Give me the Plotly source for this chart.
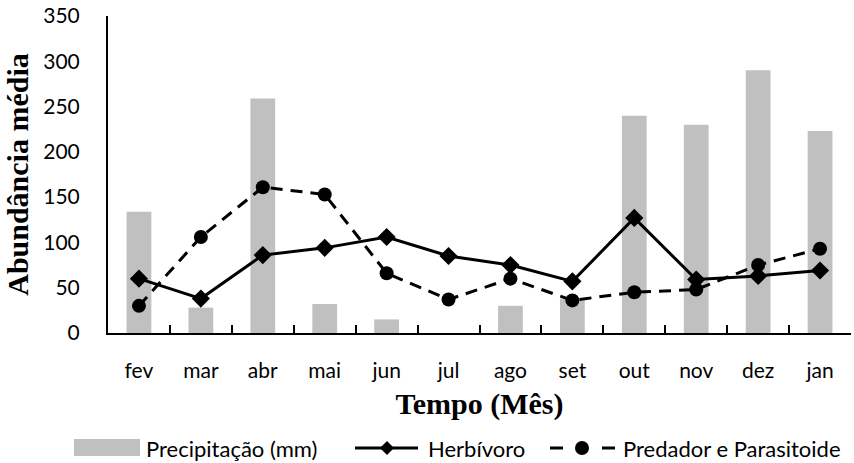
import plotly.graph_objects as go

meses = ["fev", "mar", "abr", "mai", "jun", "jul", "ago", "set", "out", "nov", "dez", "jan"]
precipitacao = [134, 28, 259, 32, 15, 0, 30, 38, 240, 230, 290, 223]
herbivoro = [60, 38, 86, 94, 106, 85, 75, 57, 127, 59, 63, 69]
predador = [30, 106, 161, 153, 66, 37, 60, 36, 45, 48, 75, 93]

y_ticks = [0, 50, 100, 150, 200, 250, 300, 350]
nomes = ["Precipitação (mm)", "Herbívoro", "Predador e Parasitoide"]

W, H = 854, 463
M_L, M_R, M_T, M_B = 108, 3, 16, 130
PW, PH = W - M_L - M_R, H - M_T - M_B

BAR_GREY = "#c0c0c0"
DASH = "12px,8px"

tick_font = dict(family="Lato, Noto Sans", size=21, color="#000000")
legend_font = dict(family="Lato, Noto Sans", size=22, color="#000000")
title_font = dict(family="Liberation Serif, DejaVu Serif", size=30, color="#000000")


def px(x):
    return (x - M_L) / PW


def py(y):
    return (H - M_B - y) / PH


fig = go.Figure()

fig.add_trace(go.Bar(
    x=meses, y=precipitacao, name=nomes[0],
    marker=dict(color=BAR_GREY, line=dict(width=0)),
    width=0.4,
))

fig.add_trace(go.Scatter(
    x=meses, y=herbivoro, name=nomes[1], mode="lines+markers",
    line=dict(color="#000000", width=3),
    marker=dict(symbol="diamond", size=14, color="#000000"),
))

fig.add_trace(go.Scatter(
    x=meses, y=predador, name=nomes[2], mode="lines+markers",
    line=dict(color="#000000", width=3, dash=DASH),
    marker=dict(symbol="circle", size=14, color="#000000"),
))

# Legend row drawn below the axis title
shapes = []
annotations = []
ly = 448

# precipitation swatch
shapes.append(dict(type="rect", xref="paper", yref="paper",
                   x0=px(74), x1=px(140), y0=py(456), y1=py(439),
                   fillcolor=BAR_GREY, line=dict(width=0), layer="above"))
annotations.append(dict(text=nomes[0], x=px(144), y=py(ly), xref="paper", yref="paper",
                        xanchor="left", yanchor="middle", showarrow=False, font=legend_font))

# herbivore swatch: solid line with diamond
shapes.append(dict(type="line", xref="paper", yref="paper",
                   x0=px(355), x1=px(418), y0=py(ly), y1=py(ly),
                   line=dict(color="#000000", width=3), layer="above"))
dx, dy = 7, 7
cx = 387
shapes.append(dict(type="path", xref="paper", yref="paper",
                   path=(f"M {px(cx - dx)} {py(ly)} L {px(cx)} {py(ly - dy)} "
                         f"L {px(cx + dx)} {py(ly)} L {px(cx)} {py(ly + dy)} Z"),
                   fillcolor="#000000", line=dict(width=0), layer="above"))
annotations.append(dict(text=nomes[1], x=px(426), y=py(ly), xref="paper", yref="paper",
                        xanchor="left", yanchor="middle", showarrow=False, font=legend_font))

# predator swatch: dashes with a dot
for a, b in [(550, 563), (602, 615)]:
    shapes.append(dict(type="line", xref="paper", yref="paper",
                       x0=px(a), x1=px(b), y0=py(ly), y1=py(ly),
                       line=dict(color="#000000", width=3), layer="above"))
r = 7
shapes.append(dict(type="circle", xref="paper", yref="paper",
                   x0=px(582 - r), x1=px(582 + r), y0=py(ly + r), y1=py(ly - r),
                   fillcolor="#000000", line=dict(width=0), layer="above"))
annotations.append(dict(text=nomes[2], x=px(621), y=py(ly), xref="paper", yref="paper",
                        xanchor="left", yanchor="middle", showarrow=False, font=legend_font))

fig.update_layout(
    width=W, height=H,
    margin=dict(l=M_L, r=M_R, t=M_T, b=M_B),
    paper_bgcolor="#ffffff", plot_bgcolor="#ffffff",
    showlegend=False,
    shapes=shapes, annotations=annotations,
)

fig.update_xaxes(
    type="category", categoryorder="array", categoryarray=meses,
    range=[-0.5, 11.5],
    showline=True, linecolor="#000000", linewidth=2,
    ticks="inside", tickson="boundaries", ticklen=8, tickwidth=2, tickcolor="#000000",
    tickfont=tick_font, ticklabelstandoff=18, showgrid=False, zeroline=False,
    title=dict(text="<b>Tempo (Mês)</b>", font=title_font, standoff=12),
)

fig.update_yaxes(
    range=[0, 350], tickvals=y_ticks,
    showline=True, linecolor="#000000", linewidth=2,
    ticks="", tickfont=tick_font, ticklabelstandoff=22,
    showgrid=False, zeroline=False,
    title=dict(text="<b>Abundância média</b>", font=title_font, standoff=6),
)

fig.write_html("out.html")
